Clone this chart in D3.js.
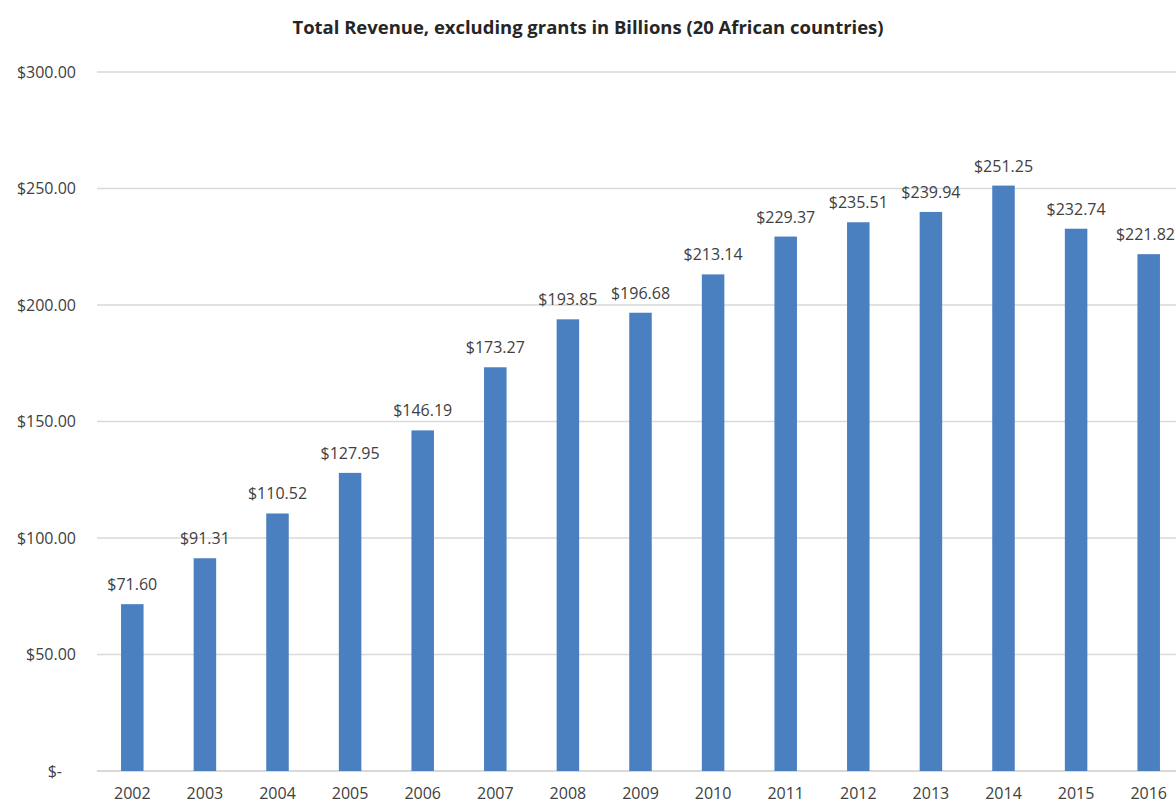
<!DOCTYPE html>
<html>
<head>
<meta charset="utf-8">
<script src="https://cdn.jsdelivr.net/npm/d3@7"></script>
<style>
  html, body { margin: 0; padding: 0; background: #fff; }
  svg { display: block; }
  text { font-family: "Open Sans", "Noto Sans", sans-serif; fill: #404040; }
</style>
</head>
<body>
<svg id="chart" width="1176" height="806"></svg>
<script>
// Total revenue, excluding grants, in billions (20 African countries)
const years = ["2002","2003","2004","2005","2006","2007","2008","2009","2010","2011","2012","2013","2014","2015","2016"];
const revenue = [71.60, 91.31, 110.52, 127.95, 146.19, 173.27, 193.85, 196.68, 213.14, 229.37, 235.51, 239.94, 251.25, 232.74, 221.82];
const yTicks = [0, 50, 100, 150, 200, 250, 300];
const title = "Total Revenue, excluding grants in Billions (20 African countries)";

const svg = d3.select("#chart");
const W = 1176;

const x = d3.scaleBand().domain(years).range([96, 1185]).paddingInner(0.69).paddingOuter(0.345);
const y = d3.scaleLinear().domain([0, 300]).range([771, 72]);

const money = d => d === 0 ? "$-" : "$" + d3.format(",.2f")(d);

// title
svg.append("text")
  .attr("x", 588).attr("y", 34)
  .attr("text-anchor", "middle")
  .style("font-weight", "bold").style("font-size", "17px").style("fill", "#262626")
  .attr("textLength", 591).attr("lengthAdjust", "spacingAndGlyphs")
  .text(title);

// gridlines
svg.append("g").selectAll("line").data(yTicks).join("line")
  .attr("x1", 97).attr("x2", W)
  .attr("y1", d => y(d)).attr("y2", d => y(d))
  .attr("stroke", "#d9d9d9").attr("stroke-width", d => d === 0 ? 2 : 1.5);

// y axis labels
const yAxis = svg.append("g").attr("transform", "translate(76,0)")
  .call(d3.axisLeft(y).tickValues(yTicks).tickFormat(money).tickSize(0).tickPadding(0));
yAxis.select(".domain").remove();
yAxis.selectAll("text")
  .style("font-size", "16px").style("font-family", null)
  .attr("fill", "#404040")
  .attr("dx", d => d === 0 ? -14 : 0);

// x axis labels
const xAxis = svg.append("g").attr("transform", "translate(0,771)")
  .call(d3.axisBottom(x).tickSize(0).tickPadding(17));
xAxis.select(".domain").remove();
xAxis.selectAll("text")
  .style("font-size", "16px").style("font-family", null)
  .attr("fill", "#404040");

// bars
svg.append("g").selectAll("rect").data(revenue).join("rect")
  .attr("x", (d, i) => x(years[i]))
  .attr("width", x.bandwidth())
  .attr("y", d => y(d))
  .attr("height", d => y(0) - y(d))
  .attr("fill", "#4a7fc0");

// value labels, kept inside the right edge of the drawing
svg.append("g").selectAll("text").data(revenue).join("text")
  .attr("x", (d, i) => x(years[i]) + x.bandwidth() / 2)
  .attr("y", d => y(d) - 14)
  .attr("text-anchor", "middle")
  .style("font-size", "16px")
  .text(d => money(d))
  .each(function () {
    const half = this.getComputedTextLength() / 2;
    const cx = +this.getAttribute("x");
    if (cx + half > W - 1) this.setAttribute("x", W - 1 - half);
  });
</script>
</body>
</html>
